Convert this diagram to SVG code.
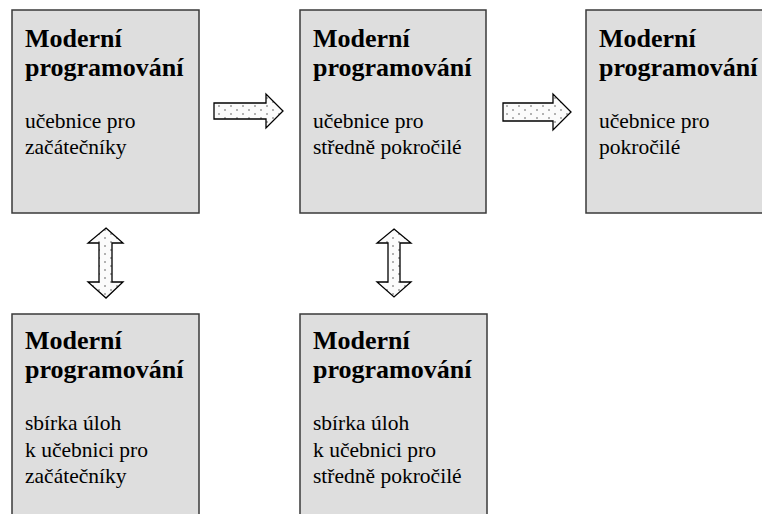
<svg xmlns="http://www.w3.org/2000/svg" width="762" height="514" viewBox="0 0 762 514">
<defs>
<pattern id="dots" width="12" height="8" patternUnits="userSpaceOnUse">
<rect width="12" height="8" fill="#fbfbfb"/>
<circle cx="3" cy="2" r="0.8" fill="#555"/>
<circle cx="9" cy="6" r="0.8" fill="#555"/>
</pattern>
<style>
.box{fill:#dedede;stroke:#3a3a3a;stroke-width:1.5}
.t{font-family:"Liberation Serif","Times New Roman",serif;font-weight:bold;font-size:26px;fill:#000}
.s{font-family:"Liberation Serif","Times New Roman",serif;font-size:21.5px;fill:#000}
.arr{fill:url(#dots);stroke:#000;stroke-width:1.3;stroke-linejoin:miter}
</style>
</defs>
<g id="n1">
<rect class="box" x="12" y="10" width="187" height="203"/>
<text class="t" x="25" y="47">Moderní</text>
<text class="t" x="25" y="76">programování</text>
<text class="s" x="25" y="128">učebnice pro</text>
<text class="s" x="25" y="154">začátečníky</text>
</g>
<g id="n2">
<rect class="box" x="300" y="10" width="186" height="203"/>
<text class="t" x="313" y="47">Moderní</text>
<text class="t" x="313" y="76">programování</text>
<text class="s" x="313" y="128">učebnice pro</text>
<text class="s" x="313" y="154">středně pokročilé</text>
</g>
<g id="n3">
<rect class="box" x="586" y="10" width="190" height="203"/>
<text class="t" x="599" y="47">Moderní</text>
<text class="t" x="599" y="76">programování</text>
<text class="s" x="599" y="128">učebnice pro</text>
<text class="s" x="599" y="154">pokročilé</text>
</g>
<g id="n4">
<rect class="box" x="12" y="314" width="187" height="215"/>
<text class="t" x="25" y="349">Moderní</text>
<text class="t" x="25" y="378">programování</text>
<text class="s" x="25" y="430">sbírka úloh</text>
<text class="s" x="25" y="457">k učebnici pro</text>
<text class="s" x="25" y="483">začátečníky</text>
</g>
<g id="n5">
<rect class="box" x="300" y="314" width="187" height="215"/>
<text class="t" x="313" y="349">Moderní</text>
<text class="t" x="313" y="378">programování</text>
<text class="s" x="313" y="430">sbírka úloh</text>
<text class="s" x="313" y="457">k učebnici pro</text>
<text class="s" x="313" y="483">středně pokročilé</text>
</g>
<g id="connectors">
<path class="arr" d="M214,103 L266,103 L266,94 L283,111 L266,128 L266,119 L214,119 Z"/>
<path class="arr" d="M503,103 L553,103 L553,94 L571,112 L553,130 L553,121 L503,121 Z"/>
<path class="arr" d="M106,228 L123,243 L112,243 L112,282 L123,282 L106,298 L88,282 L99,282 L99,243 L88,243 Z"/>
<path class="arr" d="M394,229 L411,243 L400,243 L400,282 L411,282 L394,297 L377,282 L388,282 L388,243 L377,243 Z"/>
</g>
</svg>
